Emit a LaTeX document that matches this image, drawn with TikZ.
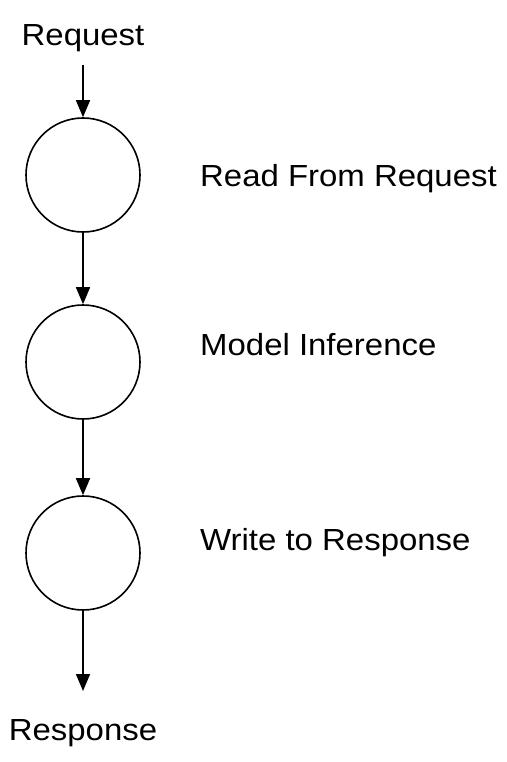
\documentclass[tikz,border=0pt]{standalone}
\usepackage{fontspec}
\setmainfont[FakeStretch=1.08]{Liberation Sans}
\usetikzlibrary{arrows.meta}
\begin{document}
\begin{tikzpicture}[x=1pt,y=-1pt,
  stage/.style={circle,draw,line width=1.6pt,minimum size=114pt,inner sep=0pt},
  lbl/.style={font=\fontsize{30.5}{36}\selectfont,inner sep=0pt},
  flow/.style={line width=1.6pt,-{Triangle[width=14pt,length=17pt]}}]
\useasboundingbox (0,0) rectangle (506,762);
\node[lbl] (req) at (83,38) {Request};
\node[stage] (c1) at (83,175) {};
\node[stage] (c2) at (83,362) {};
\node[stage] (c3) at (83,553) {};
\node[lbl] (resp) at (83,733) {Response};
\coordinate (rs) at (83,65);
\coordinate (re) at (83,691);
\node[lbl,anchor=west] (t1) at (200,179) {Read From Request};
\node[lbl,anchor=west] (t2) at (200,345) {Model Inference};
\node[lbl,anchor=west] (t3) at (200,543) {Write to Response};
\draw[flow] (rs) -- (c1.north);
\draw[flow] (c1.south) -- (c2.north);
\draw[flow] (c2.south) -- (c3.north);
\draw[flow] (c3.south) -- (re);
\end{tikzpicture}
\end{document}
